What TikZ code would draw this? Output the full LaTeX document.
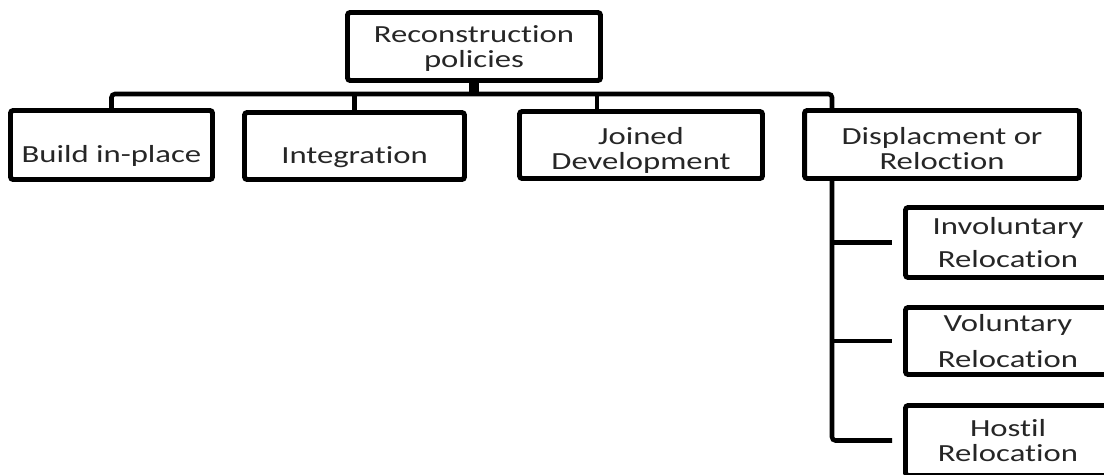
\documentclass[tikz,border=0pt]{standalone}
\usepackage{fontspec}
\setmainfont[FakeStretch=1.33, Ligatures=NoCommon]{Carlito}

\begin{document}
\begin{tikzpicture}[
    x=0.02cm,
    y=-0.02cm,
    box/.style={
        draw,
        line width=2.8pt,
        rounded corners=1.5pt,
        inner sep=0pt,
        align=center,
        text=black!85,
        font=\fontsize{14}{14.2}\selectfont
    },
    oneline/.style={text height=0.7cm, text depth=0.02cm},
    twoline/.style={text height=#1, text depth=0.02cm},
    link/.style={draw, line width=2.6pt, rounded corners=2pt}
]
\useasboundingbox (0,0) rectangle (1104,474);

\node[box, twoline=0.84cm, minimum width=5.06cm, minimum height=1.36cm] (root) at (474,46.5) {Reconstruction\\policies};

\node[box, oneline, minimum width=4.04cm, minimum height=1.38cm] (build)  at (111.5,145) {Build in-place};
\node[box, oneline, minimum width=4.4cm,  minimum height=1.34cm] (integ)  at (354.5,146) {Integration};
\node[box, twoline=1.0cm, minimum width=4.86cm, minimum height=1.34cm] (joined) at (641,145)   {Joined\\Development};
\node[box, twoline=1.0cm, minimum width=5.5cm,  minimum height=1.36cm] (displ)  at (942,144.5) {Displacment or\\Reloction};

\node[box, minimum width=4.1cm, minimum height=1.4cm,  font=\fontsize{14}{18.7}\selectfont] (invol)  at (1008,242.5) {Involuntary\\Relocation};
\node[box, minimum width=4.1cm, minimum height=1.34cm, font=\fontsize{14}{21}\selectfont]   (volun)  at (1008,341)   {Voluntary\\Relocation};
\node[box, minimum width=4.1cm, minimum height=1.4cm,  font=\fontsize{14}{14.2}\selectfont] (hostil) at (1008,440.5) {Hostil\\Relocation};

\coordinate (bar) at (0,94);
\coordinate (jstem) at (597,0);
\coordinate (dstem) at (832,0);

% top level
\draw[link, line width=6pt] (root.south) -- (root.south |- bar);
\draw[link] (build.north) -- (build.north |- bar) -- (bar -| dstem) -- (displ.north -| dstem);
\draw[link] (integ.north) -- (integ.north |- bar);
\draw[link] (joined.north -| jstem) -- (bar -| jstem);

% relocation branch
\draw[link] (displ.south -| dstem) -- (hostil.west -| dstem) -- ([xshift=-0.22cm]hostil.west);
\foreach \sub in {invol, volun}
    \draw[link] (\sub.west -| dstem) -- ([xshift=-0.22cm]\sub.west);

\end{tikzpicture}
\end{document}
